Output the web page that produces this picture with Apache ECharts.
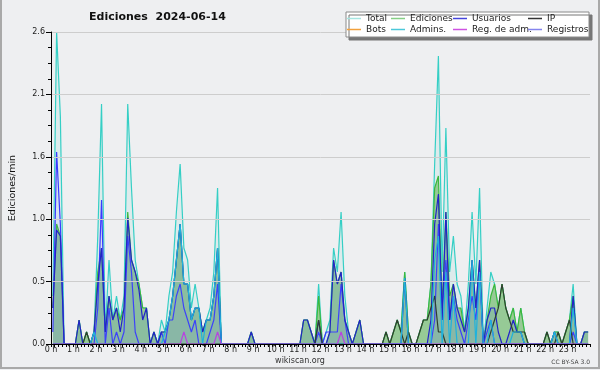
<!DOCTYPE html>
<html>
<head>
<meta charset="utf-8">
<title>Ediciones 2024-06-14</title>
<script src="https://cdn.jsdelivr.net/npm/echarts@6/dist/echarts.min.js"></script>
<style>
html, body { margin: 0; padding: 0; background: #fff; }
#chart { position: absolute; left: 0; top: 0; width: 600px; height: 370px; background: #eeeff1; }
#frame { position: absolute; left: 0; top: 0; width: 596px; height: 367px; border: 2px solid #a9a9a9; border-top: none; pointer-events: none; }
</style>
</head>
<body>
<div id="chart"></div>
<div id="frame"></div>
<script>
// one value per 10 minutes (edits per minute), 12 values per line = 2 hours
const total = [
    0.4, 2.6, 1.9, 0, 0, 0, 0, 0.2, 0, 0.1, 0, 0.1,
    0.9, 2.0, 0.1, 0.7, 0.2, 0.4, 0.2, 0.4, 2.0, 1.3, 0.7, 0.5,
    0.3, 0.3, 0, 0.1, 0, 0.2, 0.1, 0.4, 0.6, 1.1, 1.5, 0.8,
    0.7, 0.3, 0.5, 0.3, 0.1, 0.2, 0.3, 0.6, 1.3, 0, 0, 0,
    0, 0, 0, 0, 0, 0.1, 0, 0, 0, 0, 0, 0,
    0, 0, 0, 0, 0, 0, 0, 0.2, 0.2, 0.1, 0, 0.5,
    0, 0.1, 0.2, 0.8, 0.6, 1.1, 0.4, 0.1, 0, 0.1, 0.2, 0,
    0, 0, 0, 0, 0, 0.1, 0, 0.1, 0.2, 0.1, 0.6, 0.1,
    0, 0, 0.1, 0.2, 0.2, 0.5, 1.5, 2.4, 0.6, 1.8, 0.6, 0.9,
    0.5, 0.4, 0.1, 0.5, 1.1, 0.5, 1.3, 0, 0.3, 0.6, 0.5, 0.3,
    0.5, 0.3, 0.2, 0.3, 0.1, 0.3, 0.1, 0, 0, 0, 0, 0,
    0.1, 0, 0.1, 0.1, 0, 0.1, 0.2, 0.5, 0, 0, 0.1, 0.1
];
const ediciones = [
    0.3, 1.0, 0.9, 0, 0, 0, 0, 0.2, 0, 0.1, 0, 0.1,
    0.6, 0.8, 0.1, 0.4, 0.2, 0.3, 0.2, 0.3, 1.1, 0.7, 0.6, 0.5,
    0.3, 0.3, 0, 0.1, 0, 0.1, 0.1, 0.2, 0.4, 0.7, 1.0, 0.5,
    0.5, 0.2, 0.3, 0.3, 0.1, 0.2, 0.2, 0.4, 0.8, 0, 0, 0,
    0, 0, 0, 0, 0, 0.1, 0, 0, 0, 0, 0, 0,
    0, 0, 0, 0, 0, 0, 0, 0.2, 0.2, 0.1, 0, 0.4,
    0, 0, 0.1, 0.7, 0.5, 0.6, 0.2, 0.1, 0, 0.1, 0.2, 0,
    0, 0, 0, 0, 0, 0.1, 0, 0.1, 0.2, 0.1, 0.6, 0.1,
    0, 0, 0.1, 0.2, 0.2, 0.5, 1.3, 1.4, 0.3, 1.1, 0.4, 0.5,
    0.3, 0.3, 0.1, 0.3, 0.7, 0.3, 0.7, 0, 0.2, 0.4, 0.5, 0.3,
    0.5, 0.3, 0.2, 0.3, 0.1, 0.3, 0.1, 0, 0, 0, 0, 0,
    0.1, 0, 0.1, 0.1, 0, 0.1, 0.2, 0.4, 0, 0, 0.1, 0.1
];
const usuarios = [
    0.3, 0.95, 0.9, 0, 0, 0, 0, 0.2, 0, 0, 0, 0.1,
    0.5, 0.8, 0.1, 0.4, 0.2, 0.3, 0.1, 0.3, 1.05, 0.7, 0.6, 0.45,
    0.2, 0.3, 0, 0.1, 0, 0.1, 0.1, 0.2, 0.4, 0.7, 1.0, 0.5,
    0.5, 0.2, 0.3, 0.3, 0.1, 0.2, 0.2, 0.4, 0.8, 0, 0, 0,
    0, 0, 0, 0, 0, 0.1, 0, 0, 0, 0, 0, 0,
    0, 0, 0, 0, 0, 0, 0, 0.2, 0.2, 0.1, 0, 0.2,
    0, 0, 0.1, 0.7, 0.5, 0.6, 0.2, 0.1, 0, 0.1, 0.2, 0,
    0, 0, 0, 0, 0, 0, 0, 0, 0, 0, 0.55, 0,
    0, 0, 0, 0, 0, 0.2, 1.0, 1.25, 0.2, 1.1, 0.2, 0.5,
    0.3, 0.2, 0.1, 0.3, 0.7, 0.3, 0.7, 0, 0.2, 0.3, 0.3, 0.1,
    0, 0, 0.1, 0.2, 0.1, 0.1, 0, 0, 0, 0, 0, 0,
    0, 0, 0.1, 0, 0, 0, 0, 0.4, 0, 0, 0.1, 0.1
];
const ip = [
    0, 0, 0, 0, 0, 0, 0, 0, 0, 0.1, 0, 0,
    0, 0, 0, 0, 0, 0, 0, 0, 0, 0, 0, 0,
    0, 0, 0, 0, 0, 0, 0, 0, 0, 0, 0, 0,
    0, 0, 0, 0, 0, 0, 0, 0, 0, 0, 0, 0,
    0, 0, 0, 0, 0, 0, 0, 0, 0, 0, 0, 0,
    0, 0, 0, 0, 0, 0, 0, 0, 0, 0, 0, 0.2,
    0, 0, 0, 0, 0, 0, 0, 0, 0, 0, 0, 0,
    0, 0, 0, 0, 0, 0.1, 0, 0.1, 0.2, 0.1, 0, 0.1,
    0, 0, 0.1, 0.2, 0.2, 0.3, 0.4, 0.1, 0.1, 0, 0, 0,
    0, 0, 0, 0, 0, 0, 0, 0, 0, 0.1, 0.2, 0.3,
    0.5, 0.3, 0.2, 0.1, 0.1, 0.1, 0.1, 0, 0, 0, 0, 0,
    0.1, 0, 0, 0.1, 0, 0.1, 0.2, 0, 0, 0, 0, 0
];
const admins = [
    0, 0, 0, 0, 0, 0, 0, 0, 0, 0, 0, 0.1,
    0, 0, 0, 0, 0, 0, 0, 0, 0, 0, 0, 0,
    0, 0, 0, 0, 0, 0, 0.1, 0.2, 0.4, 0.7, 1.0, 0.5,
    0.5, 0.2, 0.3, 0.3, 0, 0.2, 0.2, 0.4, 0.8, 0, 0, 0,
    0, 0, 0, 0, 0, 0, 0, 0, 0, 0, 0, 0,
    0, 0, 0, 0, 0, 0, 0, 0, 0, 0, 0, 0,
    0, 0, 0, 0, 0, 0, 0, 0, 0, 0, 0, 0,
    0, 0, 0, 0, 0, 0, 0, 0, 0, 0, 0.55, 0,
    0, 0, 0, 0, 0, 0, 0.7, 0.9, 0, 0.6, 0, 0.4,
    0, 0, 0, 0, 0.7, 0, 0.6, 0, 0, 0.2, 0, 0,
    0, 0, 0, 0.1, 0.1, 0.1, 0, 0, 0, 0, 0, 0,
    0, 0, 0.1, 0, 0, 0, 0, 0.3, 0, 0, 0, 0
];
const regAdm = [
    0, 0, 0, 0, 0, 0, 0, 0, 0, 0, 0, 0,
    0, 0, 0, 0, 0, 0, 0, 0, 0, 0, 0, 0,
    0, 0, 0, 0, 0, 0, 0, 0, 0, 0, 0, 0.1,
    0, 0, 0, 0, 0, 0, 0, 0, 0.1, 0, 0, 0,
    0, 0, 0, 0, 0, 0, 0, 0, 0, 0, 0, 0,
    0, 0, 0, 0, 0, 0, 0, 0, 0, 0, 0, 0,
    0, 0, 0, 0, 0, 0.1, 0, 0, 0, 0, 0, 0,
    0, 0, 0, 0, 0, 0, 0, 0, 0, 0, 0, 0,
    0, 0, 0, 0, 0, 0, 0, 0, 0, 0, 0, 0,
    0, 0, 0, 0, 0, 0, 0, 0, 0, 0, 0, 0,
    0, 0, 0, 0, 0, 0, 0, 0, 0, 0, 0, 0,
    0, 0, 0, 0, 0, 0, 0, 0, 0, 0, 0, 0
];
const registros = [
    0.1, 1.6, 1.0, 0, 0, 0, 0, 0, 0, 0, 0, 0,
    0.3, 1.2, 0, 0.3, 0, 0.1, 0, 0.1, 0.9, 0.6, 0.1, 0,
    0, 0, 0, 0, 0, 0.1, 0, 0.2, 0.2, 0.4, 0.5, 0.3,
    0.2, 0.1, 0.2, 0, 0, 0, 0.1, 0.2, 0.5, 0, 0, 0,
    0, 0, 0, 0, 0, 0, 0, 0, 0, 0, 0, 0,
    0, 0, 0, 0, 0, 0, 0, 0, 0, 0, 0, 0.1,
    0, 0.1, 0.1, 0.1, 0.1, 0.5, 0.2, 0, 0, 0, 0, 0,
    0, 0, 0, 0, 0, 0, 0, 0, 0, 0, 0, 0,
    0, 0, 0, 0, 0, 0, 0.2, 1.0, 0.3, 0.7, 0.2, 0.4,
    0.2, 0.1, 0, 0.2, 0.4, 0.2, 0.6, 0, 0.1, 0.2, 0, 0,
    0, 0, 0, 0, 0, 0, 0, 0, 0, 0, 0, 0,
    0, 0, 0, 0, 0, 0, 0, 0.1, 0, 0, 0, 0
];
const bots = [];

const font = 'DejaVu Sans';
// each value sits in the middle of its 10 minute slot (x in hours)
const toPoints = arr => arr.map((v, i) => [(i + 0.5) / 6, v]);

const myEcharts = echarts.init(document.getElementById('chart'), null, { renderer: 'canvas' });

const legendText = { fontFamily: font, fontSize: 9, color: '#222', lineHeight: 11 };
const legendCol = (left, items) => ({
    orient: 'vertical',
    left: left,
    top: 13,
    padding: 0,
    itemGap: 0,
    itemWidth: 14,
    itemHeight: 1.5,
    icon: 'rect',
    selectedMode: false,
    z: 60,
    textStyle: legendText,
    data: items.map(([name, color]) => ({ name: name, itemStyle: { color: color } }))
});

const lineSeries = (name, data, color, legendColor, z, extra) => Object.assign({
    name: name,
    type: 'line',
    data: toPoints(data),
    showSymbol: false,
    z: z,
    lineStyle: { color: color, width: 1.2 },
    itemStyle: { color: legendColor },
    emphasis: { disabled: true }
}, extra || {});

const option = {
    animation: false,
    backgroundColor: 'transparent',
    title: {
        text: 'Ediciones  2024-06-14',
        left: 84,
        top: 7,
        textStyle: { fontFamily: font, fontSize: 11, fontWeight: 'bold', color: '#111' }
    },
    graphic: [
        {
            type: 'rect',
            z: 50,
            shape: { x: 346, y: 12, width: 243, height: 25 },
            style: { fill: '#fff', stroke: '#8a8a8a', lineWidth: 1, shadowColor: '#777', shadowOffsetX: 3, shadowOffsetY: 3, shadowBlur: 0 }
        },
        {
            type: 'text', left: 'center', top: 357, z: 50,
            style: { text: 'wikiscan.org', fontFamily: font, fontSize: 8, fill: '#333' }
        },
        {
            type: 'text', right: 10, top: 359, z: 50,
            style: { text: 'CC BY-SA 3.0', fontFamily: font, fontSize: 6, fill: '#444' }
        }
    ],
    legend: [
        legendCol(347, [['Total', '#a6e6e2'], ['Bots', '#f2a13c']]),
        legendCol(391, [['Ediciones', '#86cf86'], ['Admins.', '#4cc8da']]),
        legendCol(453, [['Usuarios', '#4444dc'], ['Reg. de adm.', '#cf52e2']]),
        legendCol(528, [['IP', '#333333'], ['Registros', '#8585ee']])
    ],
    grid: { left: 45, right: 10, top: 32, bottom: 26 },
    xAxis: {
        type: 'value',
        min: 0,
        max: 24,
        interval: 1,
        z: 10,
        axisLine: { lineStyle: { color: '#000', width: 1 } },
        axisTick: { length: 3, lineStyle: { color: '#000' } },
        minorTick: { show: true, splitNumber: 6, length: 3, lineStyle: { color: '#000' } },
        splitLine: { show: false },
        axisLabel: {
            margin: 2,
            fontFamily: font,
            fontSize: 8,
            color: '#222',
            formatter: v => (v < 24 ? v + ' h' : '')
        }
    },
    yAxis: {
        type: 'value',
        min: 0,
        max: 2.6,
        interval: 0.52,
        z: 10,
        name: 'Ediciones/min',
        nameLocation: 'middle',
        nameRotate: 90,
        nameGap: 33,
        nameTextStyle: { fontFamily: font, fontSize: 9.5, color: '#111' },
        axisLine: { show: true, lineStyle: { color: '#000', width: 1 } },
        axisTick: { show: true, length: 5, lineStyle: { color: '#000' } },
        minorTick: { show: true, splitNumber: 4, length: 3, lineStyle: { color: '#000' } },
        splitLine: { show: true, lineStyle: { color: '#cdcdcd', width: 1 } },
        axisLabel: {
            margin: 6,
            fontFamily: font,
            fontSize: 8,
            color: '#222',
            formatter: v => v.toFixed(1)
        }
    },
    series: [
        lineSeries('Total', total, '#35cfc5', '#a6e6e2', 2, { areaStyle: { color: 'rgba(120,215,205,0.2)' } }),
        lineSeries('Ediciones', ediciones, '#3cb83c', '#86cf86', 3, { areaStyle: { color: '#96ca96', opacity: 1 } }),
        lineSeries('Registros', registros, '#3a3aff', '#8585ee', 4, { areaStyle: { color: 'rgba(120,120,240,0.12)' } }),
        lineSeries('Usuarios', usuarios, '#2323c8', '#4444dc', 5, { areaStyle: { color: 'rgba(80,122,220,0.2)' } }),
        lineSeries('IP', ip, '#2f3f2f', '#333333', 5),
        lineSeries('Admins.', admins, '#1fb2dc', '#4cc8da', 6),
        lineSeries('Reg. de adm.', regAdm, '#b843e0', '#cf52e2', 6),
        lineSeries('Bots', bots, '#f29b2f', '#f2a13c', 6)
    ]
};

myEcharts.setOption(option);
</script>
</body>
</html>
